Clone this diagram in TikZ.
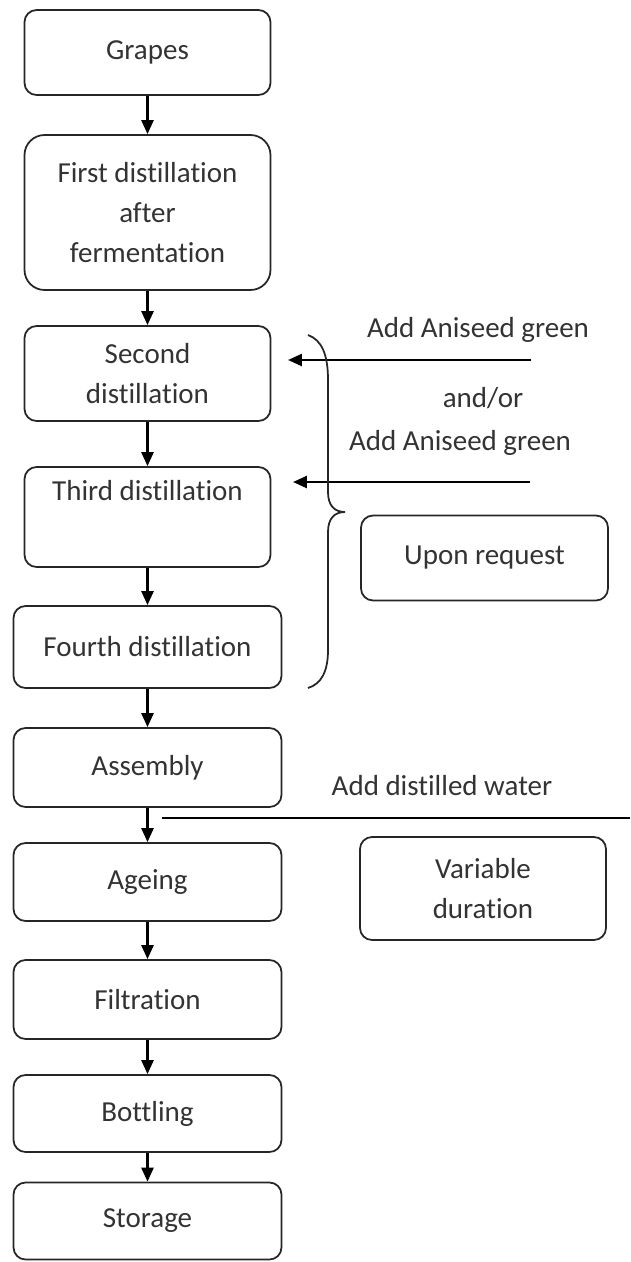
\documentclass[tikz,border=0pt]{standalone}
\usepackage{fontspec}
\setmainfont{Carlito}[Ligatures=NoCommon]
\usetikzlibrary{arrows.meta,positioning}

\begin{document}
\begin{tikzpicture}[x=0.02cm,y=-0.02cm,
        font=\fontsize{16.5}{23}\selectfont,
        box/.style={draw=black!85,rounded corners=0.24cm,line width=1pt,align=center,inner sep=0pt,text=black!80},
        label/.style={text=black!80,inner sep=0pt},
        flow/.style={-{Triangle[length=0.28cm,width=0.24cm]},line width=1.4pt}]
        \useasboundingbox (0,0) rectangle (630,1262);

        % main column
        \node[box,minimum width=4.92cm,minimum height=1.7cm] (grapes) at (147.5,52.5) {Grapes};
        \node[box,minimum width=4.92cm,minimum height=3.1cm,rounded corners=0.4cm] (first) at (147.5,212.5) {First distillation\\after\\fermentation};
        \node[box,minimum width=4.92cm,minimum height=1.9cm] (second) at (147.5,373.5) {Second\\distillation};
        \node[box,minimum width=4.92cm,minimum height=2.0cm] (third) at (147.5,517) {Third distillation\\\strut};
        \node[box,minimum width=5.36cm,minimum height=1.64cm] (fourth) at (147.5,647) {Fourth distillation};
        \node[box,minimum width=5.36cm,minimum height=1.58cm] (assembly) at (147.5,767.5) {Assembly};
        \node[box,minimum width=5.36cm,minimum height=1.56cm] (ageing) at (147.5,882) {Ageing};
        \node[box,minimum width=5.36cm,minimum height=1.58cm] (filtration) at (147.5,999.5) {Filtration};
        \node[box,minimum width=5.36cm,minimum height=1.54cm] (bottling) at (147.5,1113.5) {Bottling};
        \node[box,minimum width=5.36cm,minimum height=1.54cm] (storage) at (147.5,1221) {Storage};

        \foreach \a/\b in {grapes/first,first/second,second/third,third/fourth,fourth/assembly,assembly/ageing,ageing/filtration,filtration/bottling,bottling/storage}
        {
            \draw[flow] (\a.south) -- (\b.north);
        };

        % side boxes
        \node[box,minimum width=4.94cm,minimum height=1.7cm] (request) at (484.5,558) {Upon request};
        \node[box,minimum width=4.92cm,minimum height=2.06cm] (duration) at (483,888.5) {Variable\\duration};

        % aniseed inputs
        \node[label] (add1) at (478,330) {Add Aniseed green};
        \node[label] (andor) at (483,398) {and/or};
        \node[label] (add2) at (460,443) {Add Aniseed green};
        \coordinate (s1) at (531,360);
        \coordinate (e1) at (288,360);
        \coordinate (s2) at (530,482);
        \coordinate (e2) at (293,482);
        \draw[flow] (s1) -- (e1);
        \draw[flow] (s2) -- (e2);

        % brace
        \draw[line width=1pt,black!85] (308,335) .. controls (322,340) and (328,355) .. (328,380)
            -- (328,492) .. controls (328,505) and (334,512) .. (345,512)
            .. controls (334,512) and (328,519) .. (328,532)
            -- (328,650) .. controls (328,672) and (321,684) .. (308,688);

        % water
        \node[label] (water) at (442,786) {Add distilled water};
        \coordinate (w1) at (162,818);
        \coordinate (w2) at (630,818);
        \draw[line width=0.8pt] (w1) -- (w2);
    \end{tikzpicture}
\end{document}
